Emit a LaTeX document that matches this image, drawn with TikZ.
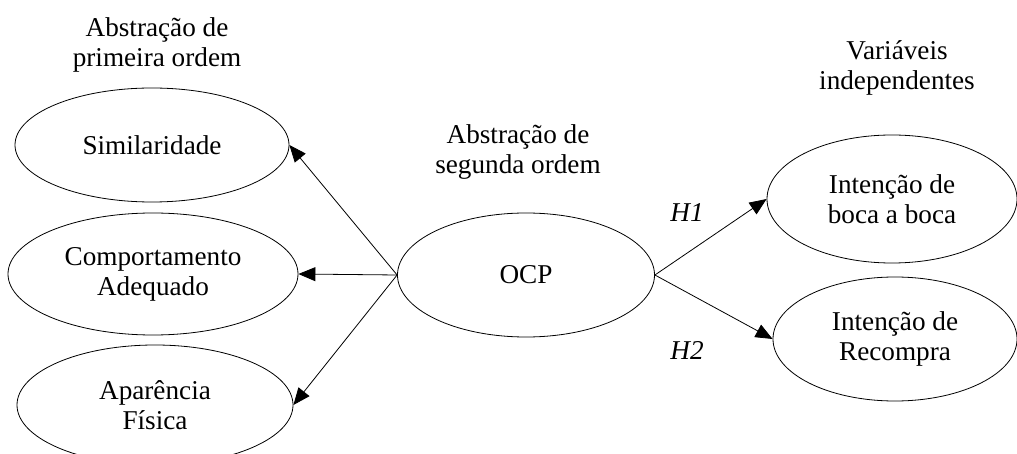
\documentclass[tikz,border=0pt]{standalone}
\usepackage{fontspec}
\setmainfont{Liberation Serif}
\usetikzlibrary{shapes.geometric, arrows.meta, positioning}
\tikzset{
    x=0.5pt, y=-0.5pt, % one unit is one pixel of the reference
    -{Triangle[length=8.5pt,width=7pt]}, % filled arrow heads
    line width=1pt,
    every node/.style={font=\fontsize{13.6}{15}\selectfont, align=center},
    styleConstruct/.style={draw, ellipse, inner sep=0pt}, % the latent variables
}
\begin{document}
\begin{tikzpicture}[
                        styleHyp/.style={font=\fontsize{13.6}{15}\selectfont\itshape},
                    ]
                    \useasboundingbox (0,0) rectangle (1017,454);
                    % first order
                    \node (t1) at (157,45) {Abstração de\\primeira ordem};
                    \node[styleConstruct, minimum width=137pt, minimum height=57pt] (sim) at (152,145) {Similaridade};
                    \node[styleConstruct, minimum width=145pt, minimum height=61pt] (comp) at (153,274) {Comportamento\\Adequado};
                    \node[styleConstruct, minimum width=138pt, minimum height=60pt] (apar) at (155,405) {Aparência\\Física};
                    % second order
                    \node (t2) at (518,152) {Abstração de\\segunda ordem};
                    \node[styleConstruct, minimum width=128.5pt, minimum height=62pt] (ocp) at (526,275) {OCP};
                    % independent variables
                    \node (t3) at (897,68) {Variáveis\\independentes};
                    \node[styleConstruct, minimum width=125pt, minimum height=64pt] (boca) at (892,199) {Intenção de\\boca a boca};
                    \node[styleConstruct, minimum width=122pt, minimum height=62pt] (recompra) at (895,339) {Intenção de\\Recompra};
                    \node[styleHyp] (h1) at (687,213) {H1};
                    \node[styleHyp] (h2) at (687,350) {H2};
                    \path
                    (ocp.west) edge (sim.east)
                    (ocp.west) edge (comp.east)
                    (ocp.west) edge (apar.east)

                    (ocp.east) edge (boca.west)
                    (ocp.east) edge (recompra.west);
                \end{tikzpicture}
\end{document}
